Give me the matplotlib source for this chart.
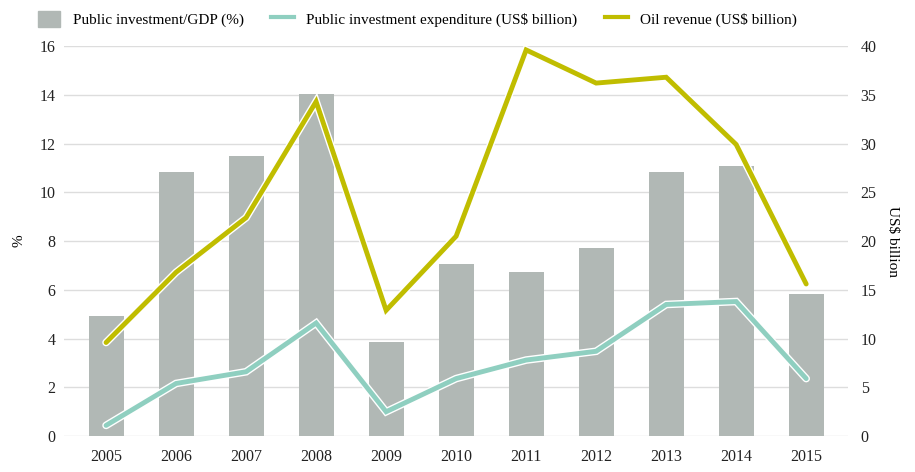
import matplotlib.pyplot as plt
import matplotlib.patheffects as pe
from matplotlib.patches import Patch
from matplotlib.lines import Line2D
import numpy as np

plt.rcParams['font.family'] = ['Liberation Serif', 'DejaVu Serif']

years = ['2005', '2006', '2007', '2008', '2009', '2010', '2011', '2012', '2013', '2014', '2015']
invest_gdp = [4.92, 10.83, 11.49, 14.03, 3.86, 7.06, 6.73, 7.71, 10.83, 11.08, 5.83]
invest_exp = [1.1, 5.4, 6.6, 11.6, 2.5, 5.9, 7.8, 8.7, 13.5, 13.8, 5.9]
oil_rev = [9.6, 16.8, 22.4, 34.3, 12.9, 20.5, 39.6, 36.2, 36.8, 29.9, 15.6]

bar_col = '#b1b8b5'
teal = '#8fcfc0'
olive = '#c0bd00'
grid_col = '#dddddd'

fig = plt.figure(figsize=(9.15, 4.72), dpi=100)
ax = fig.add_axes([0.07, 0.076, 0.857, 0.8265])
x = np.arange(len(years))

ax.bar(x, invest_gdp, width=0.5, color=bar_col, zorder=2)
ax.set_ylim(0, 16)
ax.set_yticks(range(0, 17, 2))
ax.set_xlim(-0.6, len(years) - 0.4)
ax.set_xticks(x)
ax.set_xticklabels(years)
ax.grid(axis='y', color=grid_col, linewidth=1, zorder=0)
ax.set_axisbelow(True)
for s in ax.spines.values():
    s.set_visible(False)
ax.tick_params(length=0, labelsize=11.5, pad=9, colors='#222222')
ax.tick_params(axis='y', pad=6)
ax.set_ylabel('%', fontsize=11, labelpad=10)

ax2 = ax.twinx()
ax2.set_ylim(0, 40)
ax2.set_yticks(range(0, 41, 5))
for s in ax2.spines.values():
    s.set_visible(False)
ax2.tick_params(length=0, labelsize=11.5, pad=9, colors='#222222')
ax2.set_ylabel('US$ billion', fontsize=11, rotation=270, labelpad=16)

outline = [pe.Stroke(linewidth=5.5, foreground='white'), pe.Normal()]
ax2.plot(x, invest_exp, color=teal, linewidth=3.5, solid_capstyle='round',
         solid_joinstyle='miter', path_effects=outline, zorder=3)
ax2.plot(x, oil_rev, color=olive, linewidth=3.5, solid_capstyle='round',
         solid_joinstyle='miter', path_effects=outline, zorder=4)

handles = [Patch(color=bar_col),
           Line2D([], [], color=teal, linewidth=3),
           Line2D([], [], color=olive, linewidth=3)]
labels = ['Public investment/GDP (%)', 'Public investment expenditure (US$ billion)',
          'Oil revenue (US$ billion)']
fig.legend(handles, labels, loc='upper left', bbox_to_anchor=(0.026, 1.006), ncol=3,
           frameon=False, fontsize=11, handlelength=1.5, handleheight=1.2,
           columnspacing=1.8, handletextpad=0.8)

fig.savefig('out.png', dpi=100)
